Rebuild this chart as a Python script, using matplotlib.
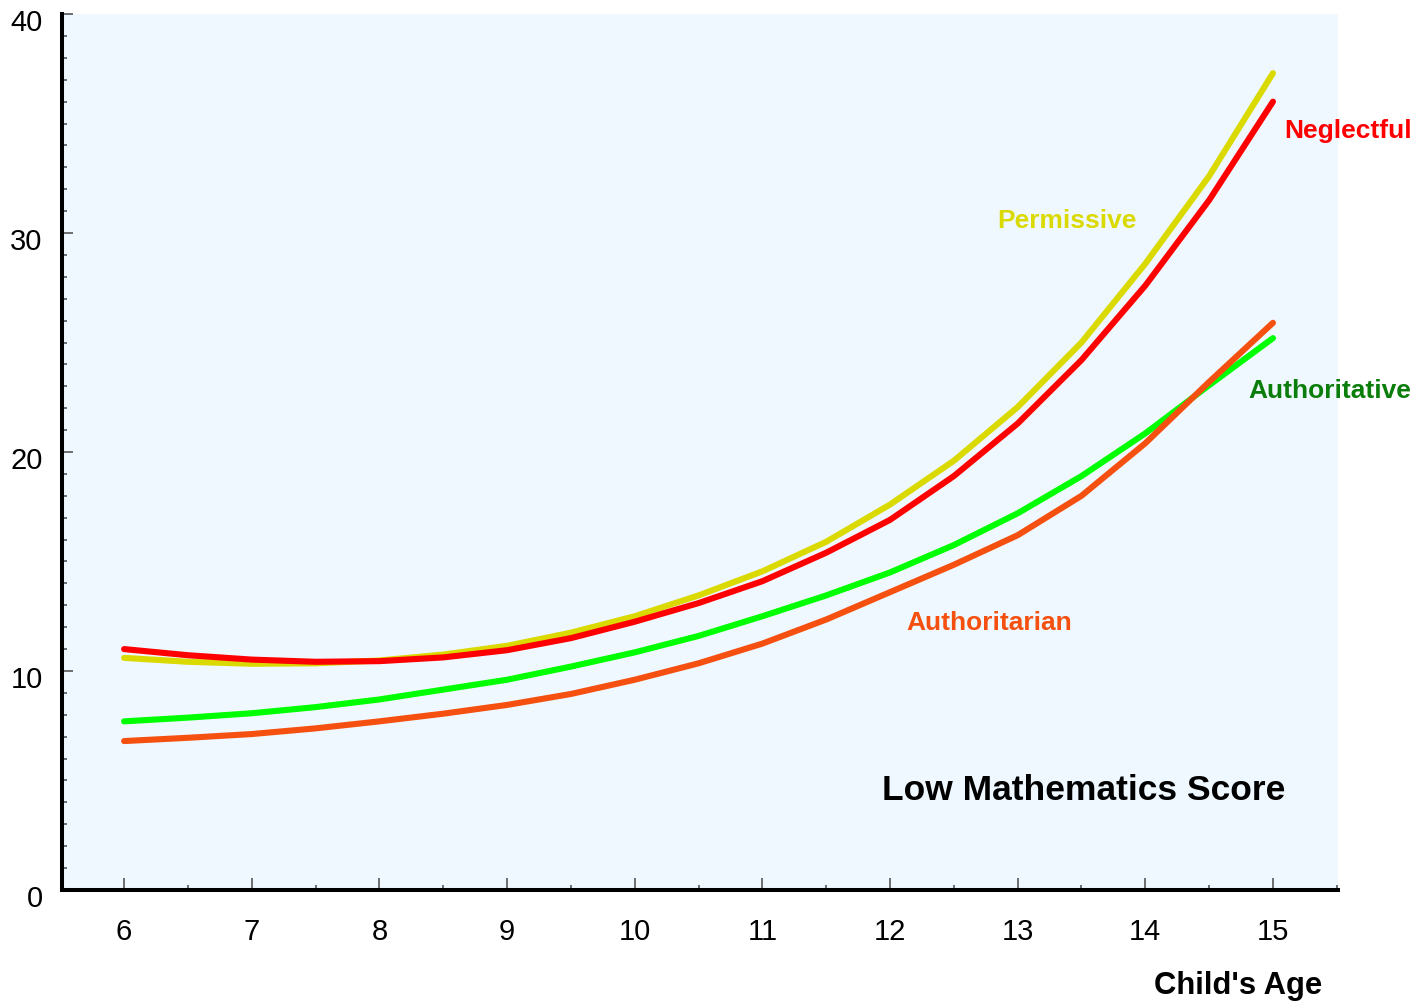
"""
Low mathematics score by child's age, one line per parenting style
"""
import matplotlib
matplotlib.use('Agg')
import matplotlib.pyplot as plt
from matplotlib.ticker import MultipleLocator
import matplotlib.transforms as mtransforms

plt.rcParams['font.family'] = ['Liberation Sans', 'DejaVu Sans']

ages = [6, 6.5, 7, 7.5, 8, 8.5, 9, 9.5, 10, 10.5, 11, 11.5, 12, 12.5, 13, 13.5, 14, 14.5, 15]
permissive = [10.6, 10.42, 10.33, 10.35, 10.48, 10.75, 11.15, 11.75, 12.5, 13.45, 14.55, 15.9, 17.6, 19.6, 22.05, 25.0, 28.6, 32.6, 37.3]
neglectful = [11.0, 10.72, 10.52, 10.42, 10.45, 10.62, 10.95, 11.5, 12.25, 13.1, 14.1, 15.4, 16.9, 18.9, 21.3, 24.2, 27.6, 31.5, 36.0]
authoritative = [7.7, 7.87, 8.07, 8.35, 8.7, 9.15, 9.6, 10.2, 10.85, 11.6, 12.5, 13.45, 14.5, 15.75, 17.2, 18.9, 20.85, 23.05, 25.2]
authoritarian = [6.8, 6.95, 7.12, 7.38, 7.7, 8.05, 8.45, 8.95, 9.6, 10.35, 11.25, 12.35, 13.6, 14.85, 16.2, 18.0, 20.4, 23.2, 25.9]

x_ticks = [6, 7, 8, 9, 10, 11, 12, 13, 14, 15]
y_ticks = [0, 10, 20, 30, 40]

fig = plt.figure(figsize=(14.2, 10.02), dpi=100)
ax = fig.add_axes([0.0437, 0.1118, 0.8986, 0.8742])
ax.set_facecolor('#F0F8FF')

series = [
    (permissive, '#DADA00'),
    (neglectful, '#FF0000'),
    (authoritative, '#00FF00'),
    (authoritarian, '#F5500F'),
]
for values, color in series:
    ax.plot(ages, values, color=color, linewidth=4.4,
            solid_capstyle='round', solid_joinstyle='round')

ax.text(15.09, 34.65, 'Neglectful', color='#FF0000', fontsize=19,
        fontweight='bold', va='center', ha='left', clip_on=False)
ax.text(12.84, 30.55, 'Permissive', color='#DADA00', fontsize=19,
        fontweight='bold', va='center', ha='left')
ax.text(14.81, 22.8, 'Authoritative', color='#0A7D0A', fontsize=19,
        fontweight='bold', va='center', ha='left', clip_on=False)
ax.text(12.13, 12.2, 'Authoritarian', color='#F5500F', fontsize=19,
        fontweight='bold', va='center', ha='left')
ax.text(11.94, 4.52, 'Low Mathematics Score', color='black', fontsize=25.5,
        fontweight='bold', va='center', ha='left')

fig.text(0.931, 0.016, "Child's Age", fontsize=22.3, fontweight='bold',
         ha='right', va='center')

ax.set_xlim(5.514, 15.51)
ax.set_ylim(0, 40)
ax.set_xticks(x_ticks)
ax.set_yticks(y_ticks)
ax.xaxis.set_minor_locator(MultipleLocator(0.5))
ax.yaxis.set_minor_locator(MultipleLocator(1))

ax.tick_params(axis='both', which='major', direction='in', labelsize=21,
               color='#555555', width=1.2)
ax.tick_params(axis='x', which='major', length=8.5, pad=20)
ax.tick_params(axis='y', which='major', length=8, pad=14)
ax.tick_params(axis='both', which='minor', direction='in', length=3.8,
               color='#555555', width=1.2)

# y labels sit a little below their ticks in the original
offset = mtransforms.ScaledTranslation(0, -6 / 100, fig.dpi_scale_trans)
for label in ax.get_yticklabels():
    label.set_transform(label.get_transform() + offset)

ax.spines['top'].set_visible(False)
ax.spines['right'].set_visible(False)
ax.spines['left'].set_linewidth(2.9)
ax.spines['bottom'].set_linewidth(2.9)

plt.savefig('out.png', dpi=100, facecolor='white')
plt.close(fig)
